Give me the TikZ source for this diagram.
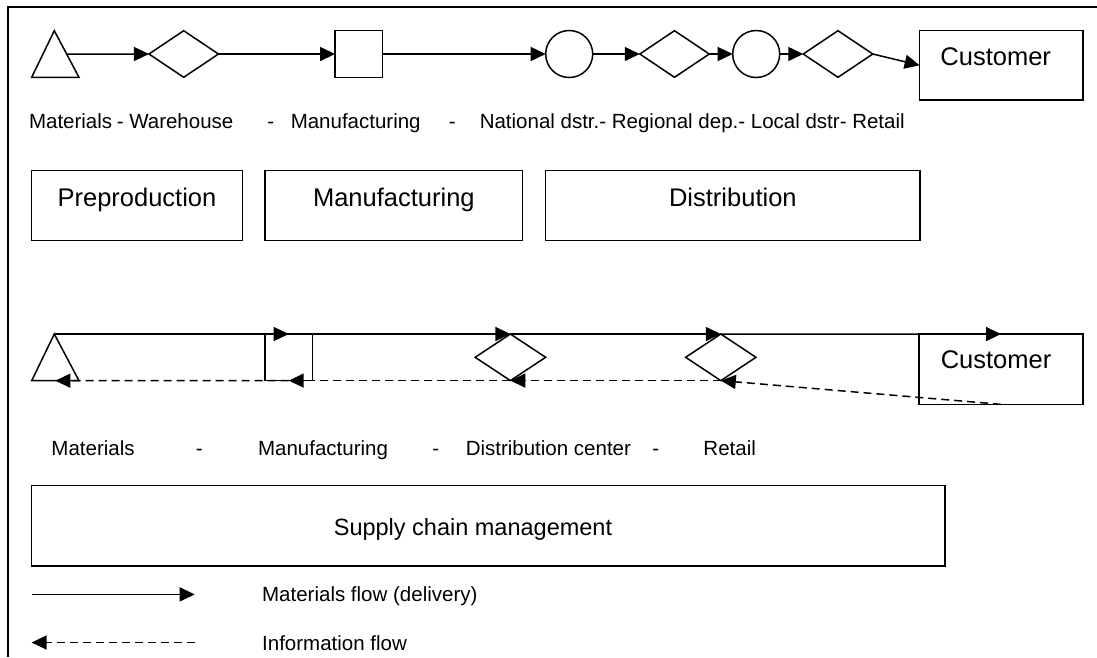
\documentclass[tikz,border=0pt]{standalone}
\usepackage{fontspec}
\setmainfont{Liberation Sans}
\usetikzlibrary{arrows.meta,shapes.geometric,calc}

\begin{document}
\begin{tikzpicture}[x=1pt,y=-1pt,
  line width=1.5pt, line join=miter,
  shp/.style={draw, inner sep=0pt, outer sep=0pt},
  dmd/.style={shp, diamond, minimum width=69.5pt, minimum height=46.6pt},
  circ/.style={shp, circle, minimum size=47pt},
  sq/.style={shp, rectangle, minimum width=47.5pt, minimum height=46.6pt},
  box/.style={shp, rectangle},
  flow/.style={-{Triangle[length=15pt,width=14pt]}},
  info/.style={dash pattern=on 8pt off 5pt, -{Triangle[length=15pt,width=14pt]}},
  lbl/.style={anchor=base west, inner sep=0pt, font=\fontsize{20.5}{24}\selectfont},
  big/.style={inner sep=0pt, font=\fontsize{25.5}{30}\selectfont},
]
\useasboundingbox (0,0) rectangle (1097,657);

% outer frame (top and left edges)
\draw[line width=2pt] (1097,7) -- (8,7) -- (8,657);

% ---- detailed chain ----
\coordinate (ta) at (54.3,30.7);
\coordinate (tl) at (31.7,77.3);
\coordinate (tr) at (79,77.3);
\draw (ta) -- (tl) -- (tr) -- cycle;
\node[dmd]  (wh) at (183.7,54) {};
\node[sq]   (mf) at (358.8,54) {};
\node[circ] (nd) at (569.2,54) {};
\node[dmd]  (rg) at (674.5,54) {};
\node[circ] (ld) at (756.2,54) {};
\node[dmd]  (rt) at (838,54) {};
\node[box, minimum width=163.3pt, minimum height=69.3pt] (cu) at (1001.3,65.3) {};
\draw[line width=2.6pt] (967,100) -- (990,100);
\node[big, anchor=base west] (cut) at (939.7,65.7) {Customer};

\draw[flow] ($(ta)!0.5!(tr)$) -- (wh.west);
\draw[flow] (wh.east) -- (mf.west);
\draw[flow] (mf.east) -- (nd.west);
\draw[flow] (nd.east) -- (rg.west);
\draw[flow] (rg.east) -- (ld.west);
\draw[flow] (ld.east) -- (rt.west);
\draw[flow] (rt.east) -- (cu.west);

\node[lbl] (l1) at (28.3,128) {Materials};
\node[lbl] (l2) at (116,128) {- Warehouse};
\node[lbl] (l3) at (266.7,128) {-};
\node[lbl] (l4) at (290,128) {Manufacturing};
\node[lbl] (l5) at (448,128) {-};
\node[lbl] (l6) at (479,128) {National dstr.- Regional dep.- Local dstr- Retail};

% ---- stages ----
\node[box, minimum width=210.6pt, minimum height=70pt] (pre) at (137,205.7) {};
\node[box, minimum width=257.7pt, minimum height=70pt] (man) at (393.85,205.7) {};
\node[box, minimum width=374.3pt, minimum height=70pt] (dis) at (732.85,205.7) {};
\node[big, anchor=base] (pret) at (137,206.7) {Preproduction};
\node[big, anchor=base] (mant) at (393.85,206.7) {Manufacturing};
\node[big, anchor=base] (dist) at (732.85,206.7) {Distribution};

% ---- supply chain ----
\coordinate (tb) at (54.3,334);
\coordinate (tbl) at (31.7,380.7);
\coordinate (tbr) at (79,380.7);
\draw (tb) -- (tbl) -- (tbr) -- cycle;
\node[sq] (mf2) at (288.7,357.3) {};
\node[dmd, minimum width=70.5pt] (dc) at (510.4,357.3) {};
\node[dmd, minimum width=70.3pt] (rt2) at (720.8,357.3) {};
\node[box, minimum width=164pt, minimum height=70.3pt] (cu2) at (1001,369.2) {};
\node[big, anchor=base west] (cu2t) at (940,368.3) {Customer};

\draw[flow] (tb) -- (mf2.north);
\draw[flow] (mf2.north) -- (dc.north);
\draw[flow] (dc.north) -- (rt2.north);
\draw[flow] (rt2.north) -- (cu2.north);

\draw[info] (cu2.south) -- (rt2.south);
\draw[info] (rt2.south) -- (dc.south);
\draw[info] (dc.south) -- (mf2.south);
\draw[info] (mf2.south) -- ($(tbl)!0.5!(tbr)$);

\node[lbl] (s1) at (50.7,455.5) {Materials};
\node[lbl] (s2) at (195,455.5) {-};
\node[lbl] (s3) at (257.3,455.5) {Manufacturing};
\node[lbl] (s4) at (431.7,455.5) {-};
\node[lbl] (s5) at (465,455.5) {Distribution center};
\node[lbl] (s6) at (651.7,455.5) {-};
\node[lbl] (s7) at (702.7,455.5) {Retail};

\node[box, minimum width=913.5pt, minimum height=80.5pt] (scm) at (488.25,525.75) {};
\node[inner sep=0pt, anchor=base, font=\fontsize{23.5}{28}\selectfont] (scmt) at (473,535) {Supply chain management};

% ---- legend ----
\coordinate (m0) at (31.6,594.4);
\coordinate (m1) at (194.7,594.4);
\draw[flow] (m0) -- (m1);
\coordinate (i0) at (194.7,642.5);
\coordinate (i1) at (31.6,642.5);
\draw[info] (i0) -- (i1);
\node[lbl] (k1) at (261.4,601.5) {Materials flow (delivery)};
\node[lbl] (k2) at (261.4,650) {Information flow};
\end{tikzpicture}
\end{document}
